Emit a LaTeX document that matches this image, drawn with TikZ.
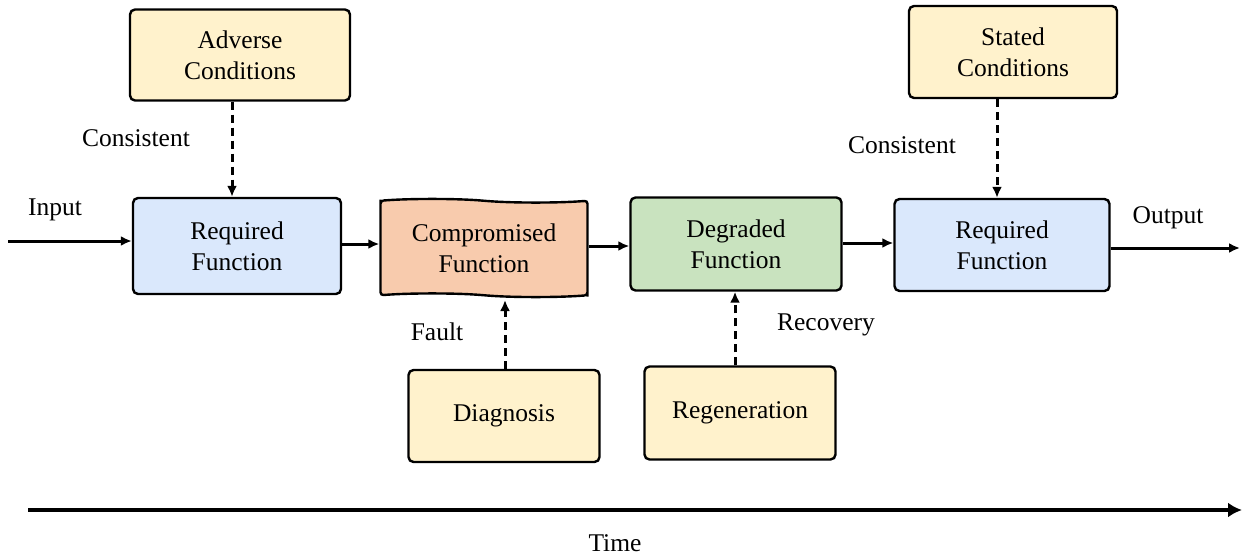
\documentclass[tikz,border=0pt]{standalone}
\usepackage{fontspec}
\setmainfont{Liberation Serif}
\usetikzlibrary{arrows.meta,shapes.symbols}
\definecolor{yel}{HTML}{FFF2CC}
\definecolor{blu}{HTML}{DAE8FC}
\definecolor{grn}{HTML}{C9E3BF}
\definecolor{sal}{HTML}{F8CBAD}
\begin{document}
\begin{tikzpicture}[x=1pt,y=-1pt,
  box/.style={draw=black,line width=2.4pt,rounded corners=5pt,align=center,
    font=\fontsize{25.5}{31}\selectfont,inner sep=0pt},
  lbl/.style={font=\fontsize{25.5}{30}\selectfont,inner sep=0pt},
  conn/.style={line width=3pt,-{Latex[length=11pt,width=10pt]}},
  dconn/.style={conn,dash pattern=on 8pt off 5pt}]
\useasboundingbox (0,0) rectangle (1244,559);
\node[box,fill=yel,minimum width=220pt,minimum height=91pt] (adv) at (240,55) {Adverse\\Conditions};
\node[box,fill=blu,minimum width=208pt,minimum height=96pt] (rf1) at (237,246) {Required\\Function};
\node[box,fill=sal,shape=tape,tape bend top=out and in,tape bend bottom=out and in,tape bend height=3.5pt,rounded corners=3pt,minimum width=207pt,minimum height=98pt] (comp) at (484,248) {Compromised\\Function};
\node[box,fill=grn,minimum width=211pt,minimum height=93pt] (deg) at (736,244) {Degraded\\Function};
\node[box,fill=blu,minimum width=215pt,minimum height=92pt] (rf2) at (1002,245) {Required\\Function};
\node[box,fill=yel,minimum width=208pt,minimum height=92pt] (sta) at (1013,52) {Stated\\Conditions};
\node[box,fill=yel,minimum width=191pt,minimum height=92pt] (dia) at (504,416) {Diagnosis};
\node[box,fill=yel,minimum width=191pt,minimum height=93pt] (reg) at (740,413) {Regeneration};

\node[lbl] (c1) at (136,138) {Consistent};
\node[lbl] (in) at (55,210) {Input};
\node[lbl] (fa) at (437,332) {Fault};
\node[lbl] (re) at (826,325) {Recovery};
\node[lbl] (c2) at (902,145) {Consistent};
\node[lbl] (out) at (1168,218) {Output};
\node[lbl] (ti) at (615,543) {Time};

\coordinate (inS) at (8,241);
\coordinate (outE) at (1240,248);
\coordinate (tS) at (28,510);
\coordinate (tE) at (1242,510);

\draw[conn] (inS) -- (inS -| rf1.west);
\draw[conn] (rf1.east |- 0,244) -- (comp.west |- 0,244);
\draw[conn] (comp.east |- 0,246) -- (deg.west |- 0,246);
\draw[conn] (deg.east |- 0,243) -- (rf2.west |- 0,243);
\draw[conn] (rf2.east |- outE) -- (outE);

\draw[dconn] (adv.south -| 232,0) -- (rf1.north -| 232,0);
\draw[dconn] (dia.north -| 505,0) -- (505,300);
\draw[dconn] (reg.north -| 735,0) -- (deg.south -| 735,0);
\draw[dconn] (sta.south -| 997,0) -- (rf2.north -| 997,0);

\draw[line width=4.5pt,-{Latex[length=14pt,width=15pt]}] (tS) -- (tE);
\end{tikzpicture}
\end{document}
